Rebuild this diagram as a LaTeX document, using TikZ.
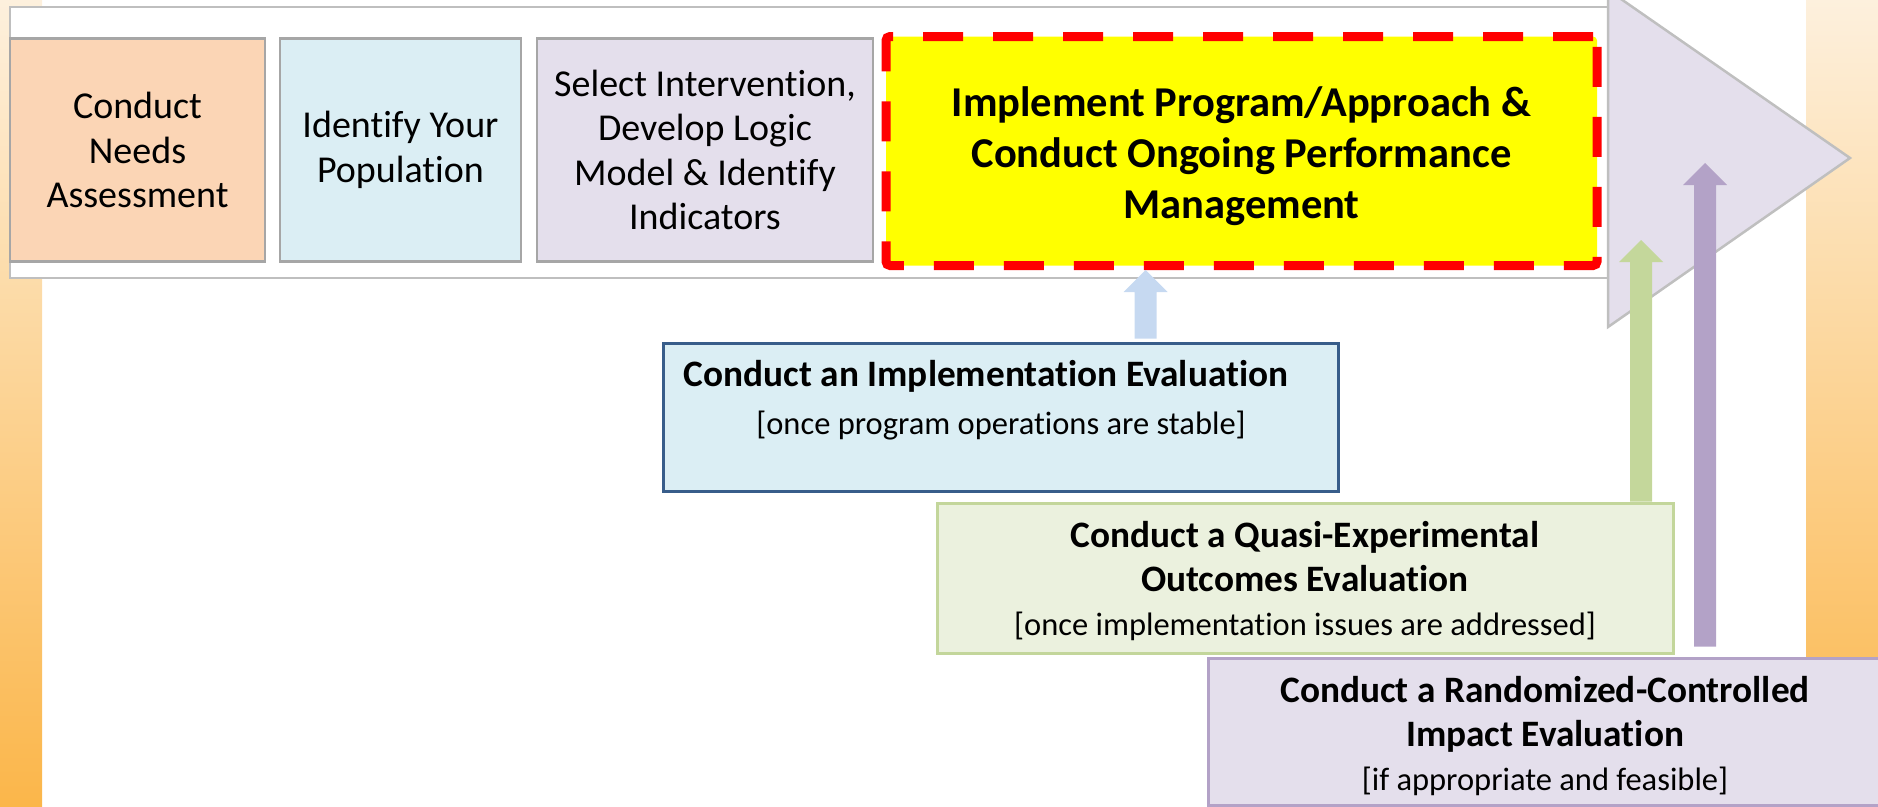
\documentclass[tikz,border=0pt]{standalone}
\usepackage{fontspec}
\setmainfont{Carlito}[Ligatures=NoCommon]
\usetikzlibrary{calc}
\definecolor{peach}{HTML}{FBD5B5}
\definecolor{lblue}{HTML}{DBEEF4}
\definecolor{lav}{HTML}{E4DFEC}
\definecolor{yel}{HTML}{FFFF00}
\definecolor{rd}{HTML}{FF0000}
\definecolor{implb}{HTML}{385D8A}
\definecolor{qfill}{HTML}{EBF1DE}
\definecolor{qline}{HTML}{C3D69B}
\definecolor{rline}{HTML}{B3A2C7}
\definecolor{gr}{HTML}{BFBFBF}
\definecolor{boxgr}{HTML}{A6A6A6}
\definecolor{barr}{HTML}{C6D9F1}
\definecolor{garr}{HTML}{C4D79B}
\definecolor{parr}{HTML}{B3A2C7}
\definecolor{bartop}{HTML}{FDF0DD}
\definecolor{barbot}{HTML}{FBB64A}
\newcommand\ttlfont{\fontsize{37.3}{44}\selectfont\bfseries}
\newcommand\subfont{\fontsize{32.5}{40}\selectfont\mdseries}
\tikzset{
  stepbox/.style={draw=boxgr, line width=2.5pt, minimum height=223pt, inner sep=0pt, align=center,
    font=\fontsize{38}{44.5}\selectfont},
  evalbox/.style={line width=3pt, inner sep=0pt, align=center, font=\ttlfont},
}
\newcommand\blockup[3]{%
  \fill[#1] let \p1=(#2), \p2=(#3) in
    (\x1-11pt,\y1) -- (\x1-11pt,\y2-22pt) -- (\x1-22pt,\y2-22pt) -- (\x1,\y2)
    -- (\x1+22pt,\y2-22pt) -- (\x1+11pt,\y2-22pt) -- (\x1+11pt,\y1) -- cycle;}
\begin{document}
\begin{tikzpicture}[x=1pt,y=-1pt]
\useasboundingbox (0,0) rectangle (1878,806);
% side gradient bars
\shade[top color=bartop, bottom color=barbot] (0,0) rectangle (42,806);
\shade[top color=bartop, bottom color=barbot] (1806,0) rectangle (1878,806);
% big process arrow
\draw[gr, fill=white, line width=2.5pt] (10,7) rectangle (1608,278);
\draw[gr, fill=lav, line width=2.5pt, line join=miter] (1608,-10) -- (1850,158) -- (1608,327) -- cycle;
% steps
\node[stepbox, fill=peach, minimum width=255pt] (needs) at (137.5,150) {Conduct\\Needs\\Assessment};
\node[stepbox, fill=lblue, minimum width=241pt] (pop) at (400.5,150) {Identify Your\\Population};
\node[stepbox, fill=lav, minimum width=336pt] (sel) at (705,150) {Select Intervention,\\Develop Logic\\Model \& Identify\\Indicators};
\node[draw=rd, fill=yel, line width=9pt, dash pattern=on 40pt off 30pt, rounded corners=4pt,
  minimum width=711pt, minimum height=229pt, inner sep=0pt] (impl) at (1241.5,151) {};
\node[align=center, inner sep=0pt, font=\fontsize{42.5}{51}\selectfont\bfseries] (impltxt) at (1241.5,156)
  {Implement Program/Approach \&\\Conduct Ongoing Performance\\Management};
% evaluation boxes
\node[evalbox, draw=implb, fill=lblue, minimum width=675pt, minimum height=148pt] (ie) at (1000.5,417) {};
\node[align=center, anchor=north, inner sep=0pt, font=\ttlfont] (ietxt) at (1001,360)
  {Conduct an Implementation Evaluation\hspace*{30pt}\\[4pt]\subfont [once program operations are stable]};
\node[evalbox, draw=qline, fill=qfill, minimum width=736pt, minimum height=150pt] (qe) at (1305,578) {};
\node[align=center, inner sep=0pt, font=\ttlfont] (qetxt) at (1305,581)
  {Conduct a Quasi-Experimental\\Outcomes Evaluation\\\subfont [once implementation issues are addressed]};
\node[evalbox, draw=rline, fill=lav, minimum width=674pt, minimum height=147pt] (re) at (1545,731.5) {};
\node[align=center, inner sep=0pt, font=\ttlfont] (retxt) at (1545,736)
  {Conduct a Randomized-Controlled\\Impact Evaluation\\\subfont [if appropriate and feasible]};
% upward block arrows
\coordinate (bbot) at ($(ie.north)+(145,-3)$);
\coordinate (btip) at (impl.south -| bbot);
\coordinate (gtip) at (1641,240);
\coordinate (gbot) at (qe.north -| gtip);
\coordinate (ptip) at (1705,163);
\coordinate (pbot) at ($(re.north -| ptip)+(0,-10)$);
\blockup{barr}{bbot}{btip}
\blockup{garr}{gbot}{gtip}
\blockup{parr}{pbot}{ptip}
\end{tikzpicture}
\end{document}
